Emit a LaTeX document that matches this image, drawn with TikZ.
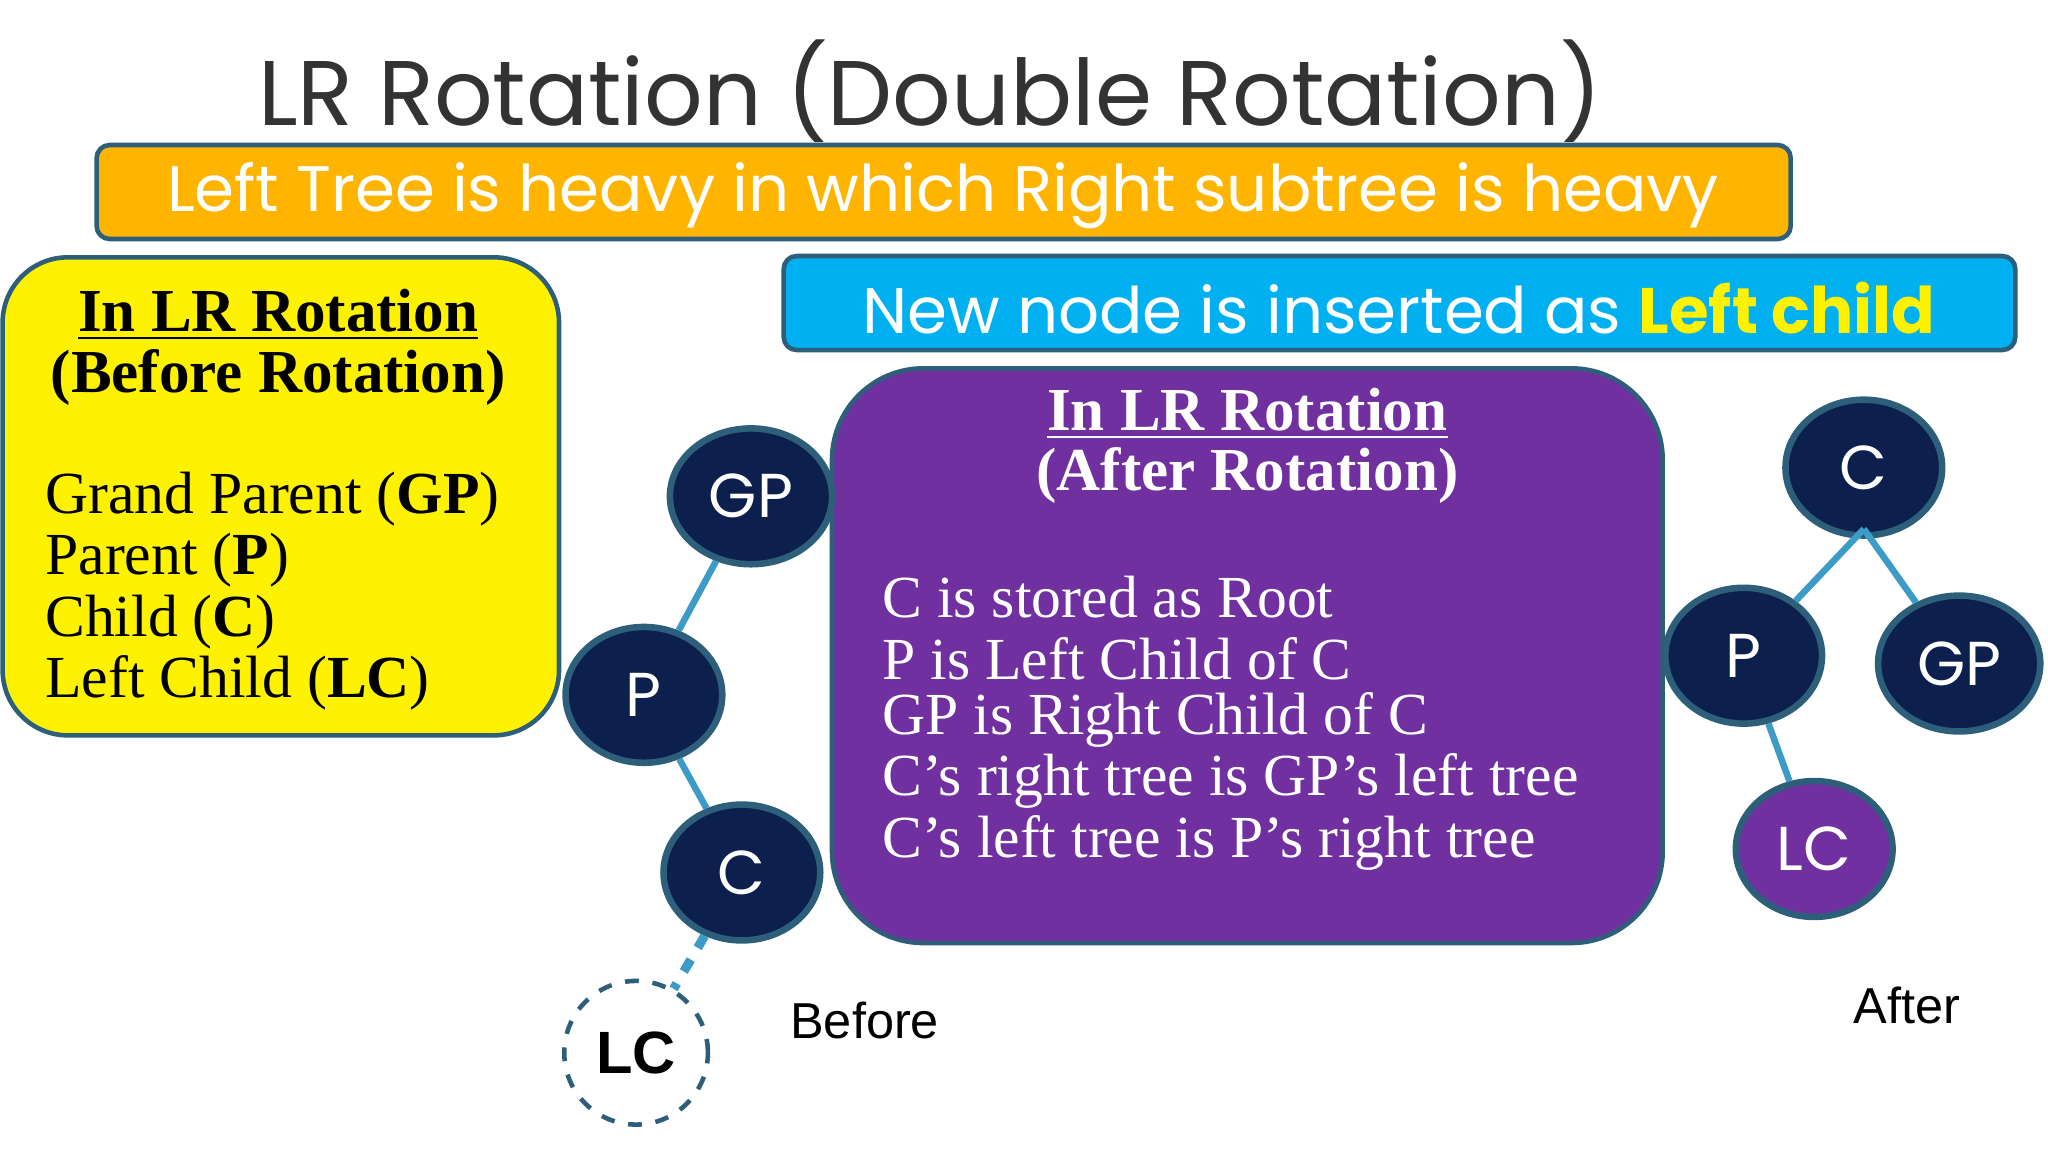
\documentclass[tikz,border=0pt]{standalone}
\usepackage{fontspec}
\setmainfont{Liberation Serif}
\setsansfont{Liberation Sans}
\newfontfamily\gothic{Poppins}
\usetikzlibrary{shapes.geometric}
\definecolor{navy}{HTML}{0C1F4D}
\definecolor{bord}{HTML}{2E5F7A}
\definecolor{edgeb}{HTML}{3C9BC7}
\definecolor{orng}{HTML}{FFB400}
\definecolor{cyanb}{HTML}{00B0F0}
\definecolor{purp}{HTML}{7030A0}
\tikzset{
 tnode/.style={ellipse,draw=bord,line width=0.5mm,fill=navy,text=white,minimum width=12mm,minimum height=10.4mm,font=\gothic\fontsize{13.5}{16}\selectfont},
 tedge/.style={draw=edgeb,line width=0.5mm},
 btxt/.style={font=\fontsize{13}{15}\selectfont,anchor=west,inner sep=0},
}
\begin{document}
\begin{tikzpicture}[x=0.1mm,y=-0.1mm]
\useasboundingbox[fill=white] (0,0) rectangle (1568,882);
\node (title) at (712,70) {\gothic\color[HTML]{333333}\fontsize{20}{24}\selectfont LR Rotation (Double Rotation)};
\draw[fill=orng,draw=bord,line width=0.35mm,rounded corners=1mm] (74,111) rectangle (1371,183);
\node[text=white] (t1) at (722,150) {\gothic\fontsize{14}{17}\selectfont Left Tree is heavy in which Right subtree is heavy};
\draw[fill=yellow,draw=bord,line width=0.35mm,rounded corners=5mm] (2,197) rectangle (428,563);
\node (y1) at (213,241) {\fontsize{13.3}{16}\selectfont\bfseries\underline{In LR Rotation}};
\node (y2) at (213,289) {\fontsize{13.3}{16}\selectfont\bfseries(Before Rotation)};
\node[btxt] (y3) at (34,382) {Grand Parent (\textbf{GP})};
\node[btxt] (y4) at (34,429) {Parent (\textbf{P})};
\node[btxt] (y5) at (34,476) {Child (\textbf{C})};
\node[btxt] (y6) at (34,523) {Left Child (\textbf{LC})};
\draw[fill=cyanb,draw=bord,line width=0.35mm,rounded corners=1mm] (600,196) rectangle (1543,268);
\node[text=white] (t2) at (1071,236) {\gothic\fontsize{14}{17}\selectfont New node is inserted as \textcolor{yellow}{\bfseries Left child}};
\draw[fill=purp,draw=bord,line width=0.35mm,rounded corners=7mm] (637,282) rectangle (1273,722);
\node[text=white] (p1) at (955,317) {\fontsize{13.3}{16}\selectfont\bfseries\underline{In LR Rotation}};
\node[text=white] (p2) at (955,364) {\fontsize{13.3}{16}\selectfont\bfseries(After Rotation)};
\node[btxt,text=white] at (675,457) {C is stored as Root};
\node[btxt,text=white] at (675,504) {P is Left Child of C};
\node[btxt,text=white] at (675,551) {GP is Right Child of C};
\node[btxt,text=white] at (675,598) {C’s right tree is GP’s left tree};
\node[btxt,text=white] at (675,645) {C’s left tree is P’s right tree};
% before tree
\node[tnode] (gp) at (575,380) {GP};
\node[tnode] (p) at (493,532) {P};
\node[tnode] (c) at (568,668) {C};
\node[circle,draw=bord,dashed,line width=0.35mm,minimum size=11mm,font=\sffamily\bfseries\fontsize{13}{16}\selectfont] (lc) at (487,806) {LC};
\draw[tedge] (gp) -- (p);
\draw[tedge] (p) -- (c);
\draw[tedge,dashed,line width=0.7mm] (c) -- (lc);
\node[font=\sffamily\fontsize{11}{13}\selectfont] (bf) at (662,781) {Before};
% after tree
\node[tnode] (c2) at (1427,358) {C};
\node[tnode] (p2n) at (1335,502) {P};
\node[tnode] (gp2) at (1500,508) {GP};
\node[tnode,fill=purp] (lc2) at (1389,650) {LC};
\coordinate (cb) at (1427,405);
\draw[tedge] (cb) -- (p2n);
\draw[tedge] (cb) -- (gp2);
\draw[tedge] (p2n) -- (lc2);
\node[font=\sffamily\fontsize{11}{13}\selectfont] (af) at (1460,770) {After};
\end{tikzpicture}
\end{document}
